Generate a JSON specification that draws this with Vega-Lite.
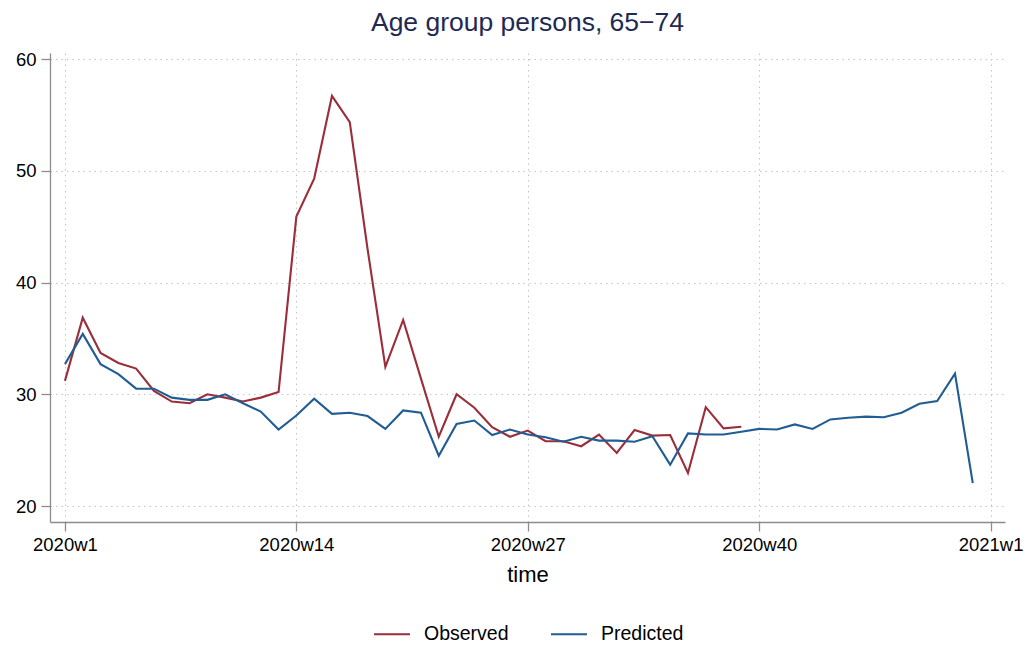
{
  "$schema": "https://vega.github.io/schema/vega-lite/v6.json",
  "width": 955,
  "height": 469,
  "autosize": {"type": "none"},
  "padding": {"left": 50, "top": 53, "right": 28, "bottom": 126},
  "background": "white",
  "title": {"text": "Age group persons, 65−74", "font": "Liberation Sans", "fontSize": 26.5, "fontWeight": "normal", "color": "#1e2a52", "anchor": "middle", "frame": "group", "offset": 14},
  "config": {
    "view": {"stroke": null},
    "axis": {
      "domainColor": "#8c8c8c", "tickColor": "#8c8c8c", "tickSize": 9, "domainWidth": 1.3, "tickWidth": 1.3,
      "labelFont": "Liberation Sans", "labelFontSize": 18.5, "labelColor": "#000000",
      "titleFont": "Liberation Sans", "titleFontWeight": "normal", "titleColor": "#000000",
      "grid": true, "gridColor": "#c4c4c4", "gridDash": [1.5, 4], "gridWidth": 1
    },
    "legend": {"labelFont": "Liberation Sans"}
  },
  "data": {
    "values": [
      {"t": 0, "series": "Observed", "value": 31.2},
      {"t": 1, "series": "Observed", "value": 36.85},
      {"t": 2, "series": "Observed", "value": 33.7},
      {"t": 3, "series": "Observed", "value": 32.8},
      {"t": 4, "series": "Observed", "value": 32.3},
      {"t": 5, "series": "Observed", "value": 30.3},
      {"t": 6, "series": "Observed", "value": 29.35},
      {"t": 7, "series": "Observed", "value": 29.2},
      {"t": 8, "series": "Observed", "value": 30.0},
      {"t": 9, "series": "Observed", "value": 29.7},
      {"t": 10, "series": "Observed", "value": 29.35},
      {"t": 11, "series": "Observed", "value": 29.7},
      {"t": 12, "series": "Observed", "value": 30.2},
      {"t": 13, "series": "Observed", "value": 45.9},
      {"t": 14, "series": "Observed", "value": 49.3},
      {"t": 15, "series": "Observed", "value": 56.7},
      {"t": 16, "series": "Observed", "value": 54.35},
      {"t": 17, "series": "Observed", "value": 43.0},
      {"t": 18, "series": "Observed", "value": 32.45},
      {"t": 19, "series": "Observed", "value": 36.65},
      {"t": 20, "series": "Observed", "value": 31.4},
      {"t": 21, "series": "Observed", "value": 26.2},
      {"t": 22, "series": "Observed", "value": 30.0},
      {"t": 23, "series": "Observed", "value": 28.8},
      {"t": 24, "series": "Observed", "value": 27.05},
      {"t": 25, "series": "Observed", "value": 26.2},
      {"t": 26, "series": "Observed", "value": 26.75},
      {"t": 27, "series": "Observed", "value": 25.8},
      {"t": 28, "series": "Observed", "value": 25.8},
      {"t": 29, "series": "Observed", "value": 25.35},
      {"t": 30, "series": "Observed", "value": 26.4},
      {"t": 31, "series": "Observed", "value": 24.75},
      {"t": 32, "series": "Observed", "value": 26.8},
      {"t": 33, "series": "Observed", "value": 26.3},
      {"t": 34, "series": "Observed", "value": 26.35},
      {"t": 35, "series": "Observed", "value": 22.95},
      {"t": 36, "series": "Observed", "value": 28.85},
      {"t": 37, "series": "Observed", "value": 26.95},
      {"t": 38, "series": "Observed", "value": 27.1},
      {"t": 0, "series": "Predicted", "value": 32.7},
      {"t": 1, "series": "Predicted", "value": 35.4},
      {"t": 2, "series": "Predicted", "value": 32.7},
      {"t": 3, "series": "Predicted", "value": 31.8},
      {"t": 4, "series": "Predicted", "value": 30.5},
      {"t": 5, "series": "Predicted", "value": 30.5},
      {"t": 6, "series": "Predicted", "value": 29.7},
      {"t": 7, "series": "Predicted", "value": 29.5},
      {"t": 8, "series": "Predicted", "value": 29.5},
      {"t": 9, "series": "Predicted", "value": 30.0},
      {"t": 10, "series": "Predicted", "value": 29.2},
      {"t": 11, "series": "Predicted", "value": 28.45},
      {"t": 12, "series": "Predicted", "value": 26.85},
      {"t": 13, "series": "Predicted", "value": 28.1},
      {"t": 14, "series": "Predicted", "value": 29.6},
      {"t": 15, "series": "Predicted", "value": 28.25},
      {"t": 16, "series": "Predicted", "value": 28.35},
      {"t": 17, "series": "Predicted", "value": 28.05},
      {"t": 18, "series": "Predicted", "value": 26.9},
      {"t": 19, "series": "Predicted", "value": 28.55},
      {"t": 20, "series": "Predicted", "value": 28.35},
      {"t": 21, "series": "Predicted", "value": 24.5},
      {"t": 22, "series": "Predicted", "value": 27.35},
      {"t": 23, "series": "Predicted", "value": 27.65},
      {"t": 24, "series": "Predicted", "value": 26.35},
      {"t": 25, "series": "Predicted", "value": 26.85},
      {"t": 26, "series": "Predicted", "value": 26.4},
      {"t": 27, "series": "Predicted", "value": 26.15},
      {"t": 28, "series": "Predicted", "value": 25.75},
      {"t": 29, "series": "Predicted", "value": 26.2},
      {"t": 30, "series": "Predicted", "value": 25.85},
      {"t": 31, "series": "Predicted", "value": 25.85},
      {"t": 32, "series": "Predicted", "value": 25.75},
      {"t": 33, "series": "Predicted", "value": 26.25},
      {"t": 34, "series": "Predicted", "value": 23.7},
      {"t": 35, "series": "Predicted", "value": 26.5},
      {"t": 36, "series": "Predicted", "value": 26.4},
      {"t": 37, "series": "Predicted", "value": 26.4},
      {"t": 38, "series": "Predicted", "value": 26.65},
      {"t": 39, "series": "Predicted", "value": 26.9},
      {"t": 40, "series": "Predicted", "value": 26.85},
      {"t": 41, "series": "Predicted", "value": 27.3},
      {"t": 42, "series": "Predicted", "value": 26.9},
      {"t": 43, "series": "Predicted", "value": 27.75},
      {"t": 44, "series": "Predicted", "value": 27.9},
      {"t": 45, "series": "Predicted", "value": 28.0},
      {"t": 46, "series": "Predicted", "value": 27.95},
      {"t": 47, "series": "Predicted", "value": 28.35},
      {"t": 48, "series": "Predicted", "value": 29.15},
      {"t": 49, "series": "Predicted", "value": 29.4},
      {"t": 50, "series": "Predicted", "value": 31.85},
      {"t": 51, "series": "Predicted", "value": 22.05}
    ]
  },
  "mark": {"type": "line", "strokeWidth": 2.1, "interpolate": "linear"},
  "encoding": {
    "x": {
      "field": "t", "type": "quantitative",
      "scale": {"domain": [-0.84, 52.81], "nice": false, "zero": false},
      "axis": {"values": [0, 13, 26, 39, 52], "labelExpr": "datum.value == 52 ? '2021w1' : '2020w' + (datum.value + 1)", "title": "time", "titleFontSize": 22, "titlePadding": 11, "labelPadding": 4, "labelOverlap": false, "labelBound": false, "labelFlush": false}
    },
    "y": {
      "field": "value", "type": "quantitative",
      "scale": {"domain": [18.57, 60.54], "nice": false, "zero": false},
      "axis": {"values": [20, 30, 40, 50, 60], "title": null, "labelPadding": 5, "labelOverlap": false}
    },
    "color": {
      "field": "series", "type": "nominal",
      "scale": {"domain": ["Observed", "Predicted"], "range": ["#9a2e3a", "#215d92"]},
      "legend": {"title": null, "orient": "none", "legendX": 323, "legendY": 562, "direction": "horizontal", "symbolType": "stroke", "symbolSize": 1296, "symbolStrokeWidth": 2, "labelFontSize": 19.5, "labelOffset": 13, "columnPadding": 38, "labelColor": "#000000"}
    }
  }
}
